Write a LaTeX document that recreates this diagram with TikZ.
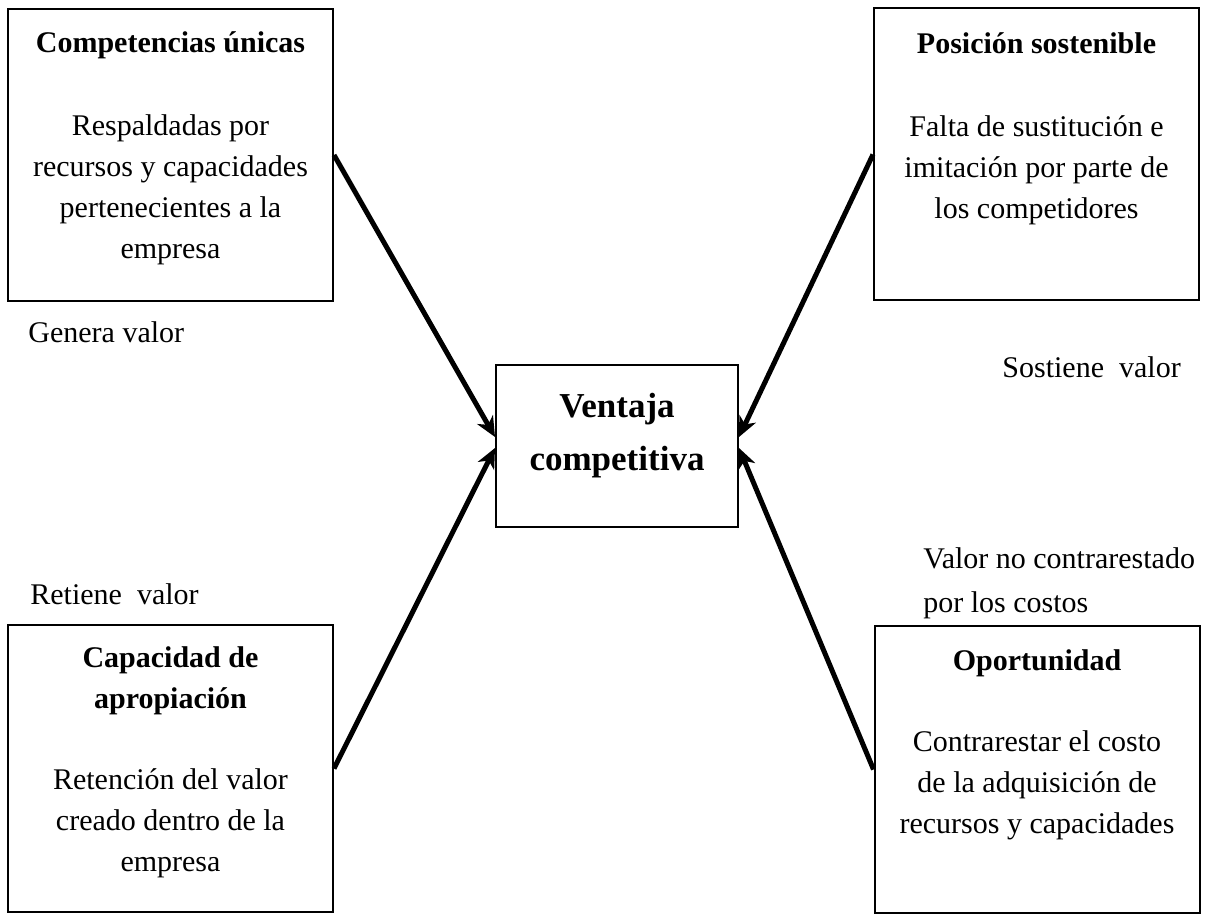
\documentclass[tikz,border=0pt]{standalone}
\usepackage{fontspec}
\setmainfont{Liberation Serif}
\usetikzlibrary{arrows.meta, positioning}

\tikzset{
	caja/.style = {draw, line width = 1pt, minimum width = 162.5pt, inner sep = 0pt},
	texto/.style = {font = \fontsize{15}{20.5}\selectfont, align = center, inner sep = 0pt, anchor = base},
	etiqueta/.style = {font = \fontsize{15}{22}\selectfont, align = left, inner sep = 0pt, anchor = base west}
}

\begin{document}
\begin{tikzpicture}[x = 0.5pt, y = -0.5pt]
			\def\hs{146pt};
			\def\hi{143.5pt};

			\useasboundingbox (0,0) rectangle (1208,914);

			\node [caja, minimum height = \hs] (cu) at (170.5,155) {};
			\node [caja, minimum height = \hs] (ps) at (1036.5,154.5) {};
			\node [caja, minimum height = \hi] (ca) at (170.5,768.5) {};
			\node [caja, minimum height = \hi] (op) at (1037,769.5) {};
			\node [caja, minimum width = 121pt, minimum height = 81pt, text depth = 14pt,
				font = \fontsize{17.5}{26.5}\selectfont\bfseries, align = center] (va) at (617,446) {Ventaja\\competitiva};

			\node [texto, yshift = -125.5pt] (cut) at (cu.north)
				{\textbf{Competencias únicas}\\[21pt]Respaldadas por\\recursos y capacidades\\pertenecientes a la\\empresa};
			\node [texto, yshift = -105.5pt] (pst) at (ps.north)
				{\textbf{Posición sostenible}\\[21pt]Falta de sustitución e\\imitación por parte de\\los competidores};
			\node [texto, yshift = -123.5pt] (cat) at (ca.north)
				{\textbf{Capacidad de}\\\textbf{apropiación}\\[20pt]Retención del valor\\creado dentro de la\\empresa};
			\node [texto, yshift = -104pt] (opt) at (op.north)
				{\textbf{Oportunidad}\\[20pt]Contrarestar el costo\\de la adquisición de\\recursos y capacidades};

			\node [etiqueta] (gv) at (28,343) {Genera valor};
			\node [etiqueta] (sv) at (1002,377) {Sostiene~ valor};
			\node [etiqueta] (rv) at (30,604) {Retiene~ valor};
			\node [etiqueta] (vc) at (923,612) {Valor no contrarestado\\por los costos};

			\begin{scope}[-{Stealth[length = 10pt, width = 9pt, inset = 3pt]}, line width = 2.5pt]
				\draw (cu.east) -- ([yshift = 4.5pt]va.west);
				\draw (ps.west) -- ([yshift = 4.5pt]va.east);
				\draw (ca.east) -- ([yshift = -1pt]va.west);
				\draw (op.west) -- ([yshift = -1pt]va.east);
			\end{scope}
		\end{tikzpicture}
\end{document}
